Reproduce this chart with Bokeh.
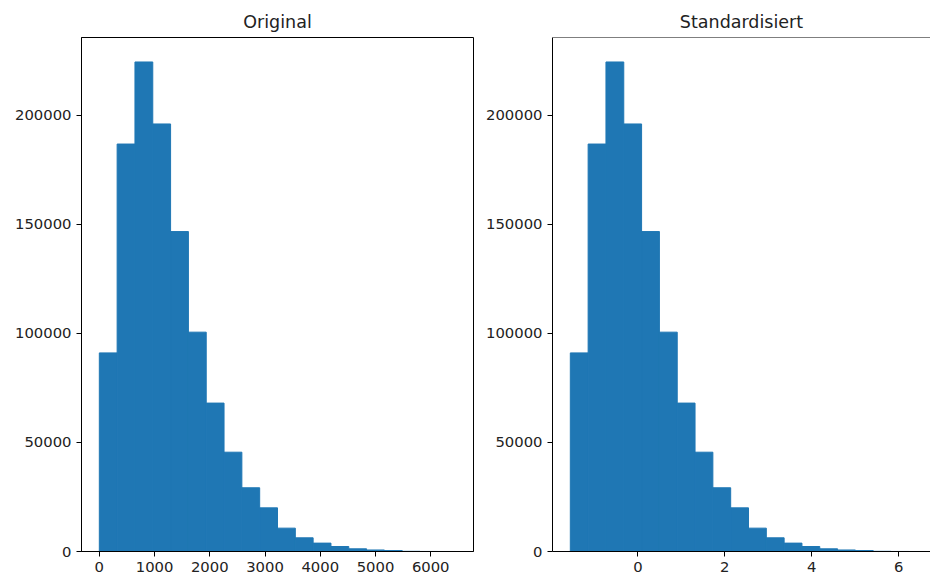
from bokeh.plotting import figure
from bokeh.layouts import row
from bokeh.models import Range1d, FixedTicker, Span, PrintfTickFormatter
from bokeh.embed import file_html
from bokeh.resources import INLINE

# Histogram counts per bin (same counts for both panels)
counts = [91000, 186700, 224300, 195900, 146600, 100500, 68000, 45500, 29200, 20000,
          10700, 6270, 3840, 2290, 1230, 700, 450, 80, 20, 5]

# Bin edges of the original values
orig_edges = [0.0, 322.6, 645.2, 967.8, 1290.4, 1613.0, 1935.6, 2258.2, 2580.8, 2903.4,
              3226.0, 3548.6, 3871.2, 4193.8, 4516.4, 4839.0, 5161.6, 5484.2, 5806.8,
              6129.4, 6452.0]

# Bin edges of the standardised values
std_edges = [-1.554, -1.144, -0.734, -0.324, 0.086, 0.496, 0.906, 1.316, 1.726, 2.136,
             2.546, 2.956, 3.366, 3.776, 4.186, 4.596, 5.006, 5.416, 5.826, 6.236, 6.646]

titles = ["Original", "Standardisiert"]
y_ticks = [0, 50000, 100000, 150000, 200000]
orig_ticks = [0, 1000, 2000, 3000, 4000, 5000, 6000]
std_ticks = [0, 2, 4, 6]

BAR = "#1f77b4"
FONT = "DejaVu Sans"
TEXT = "#222222"
H = 577
FRAME_W = 392
y_top = 1.05 * max(counts)


def style(p, xticks):
    p.title.text_font = FONT
    p.title.text_font_size = "17.5px"
    p.title.text_font_style = "normal"
    p.title.text_color = TEXT
    p.title.align = "center"
    p.title.standoff = 12
    p.xgrid.visible = False
    p.ygrid.visible = False
    p.background_fill_color = "white"
    p.border_fill_color = "white"
    p.xaxis.ticker = FixedTicker(ticks=xticks)
    p.yaxis.ticker = FixedTicker(ticks=y_ticks)
    p.yaxis.formatter = PrintfTickFormatter(format="%d")
    for ax in (p.xaxis, p.yaxis):
        ax.major_label_text_font = FONT
        ax.major_label_text_font_size = "14.8px"
        ax.major_label_text_color = TEXT
        ax.major_tick_in = 0
        ax.major_tick_out = 5
        ax.major_tick_line_color = "black"
        ax.minor_tick_line_color = None
        ax.axis_line_color = "black"
        ax.axis_line_width = 1
        ax.major_label_standoff = 5


def histogram(edges, title, xticks, width, border_left, border_right, x_end=None):
    span = edges[-1] - edges[0]
    pad = 0.05 * span
    start = edges[0] - pad
    end = edges[-1] + pad
    if x_end is not None:
        end = x_end
    p = figure(width=width, height=H, title=title, output_backend="svg",
               toolbar_location=None,
               x_range=Range1d(start, end), y_range=Range1d(0, y_top),
               min_border_left=border_left, min_border_right=border_right,
               min_border_top=37, min_border_bottom=26)
    # thin outline in the fill colour hides seams between neighbouring bars
    p.quad(left=edges[:-1], right=edges[1:], bottom=0, top=counts,
           fill_color=BAR, line_color=BAR, line_width=1)
    style(p, xticks)
    return p


# Left panel: original values, full frame
p1 = histogram(orig_edges, titles[0], orig_ticks, 480, 81, 7)
p1.outline_line_color = "black"
p1.outline_line_width = 1

# Right panel: standardised values, frame runs to the page's right edge
std_span = std_edges[-1] - std_edges[0]
px_per_unit = FRAME_W / (1.1 * std_span)
right_frame_px = 450 - 72
x_end = std_edges[0] - 0.05 * std_span + right_frame_px / px_per_unit
p2 = histogram(std_edges, titles[1], std_ticks, 450, 72, 0, x_end=x_end)
p2.outline_line_color = None
p2.add_layout(Span(location=y_top, dimension="width", line_color="black", line_width=1))

layout = row(p1, p2)
open("out.html", "w").write(file_html(layout, INLINE))
